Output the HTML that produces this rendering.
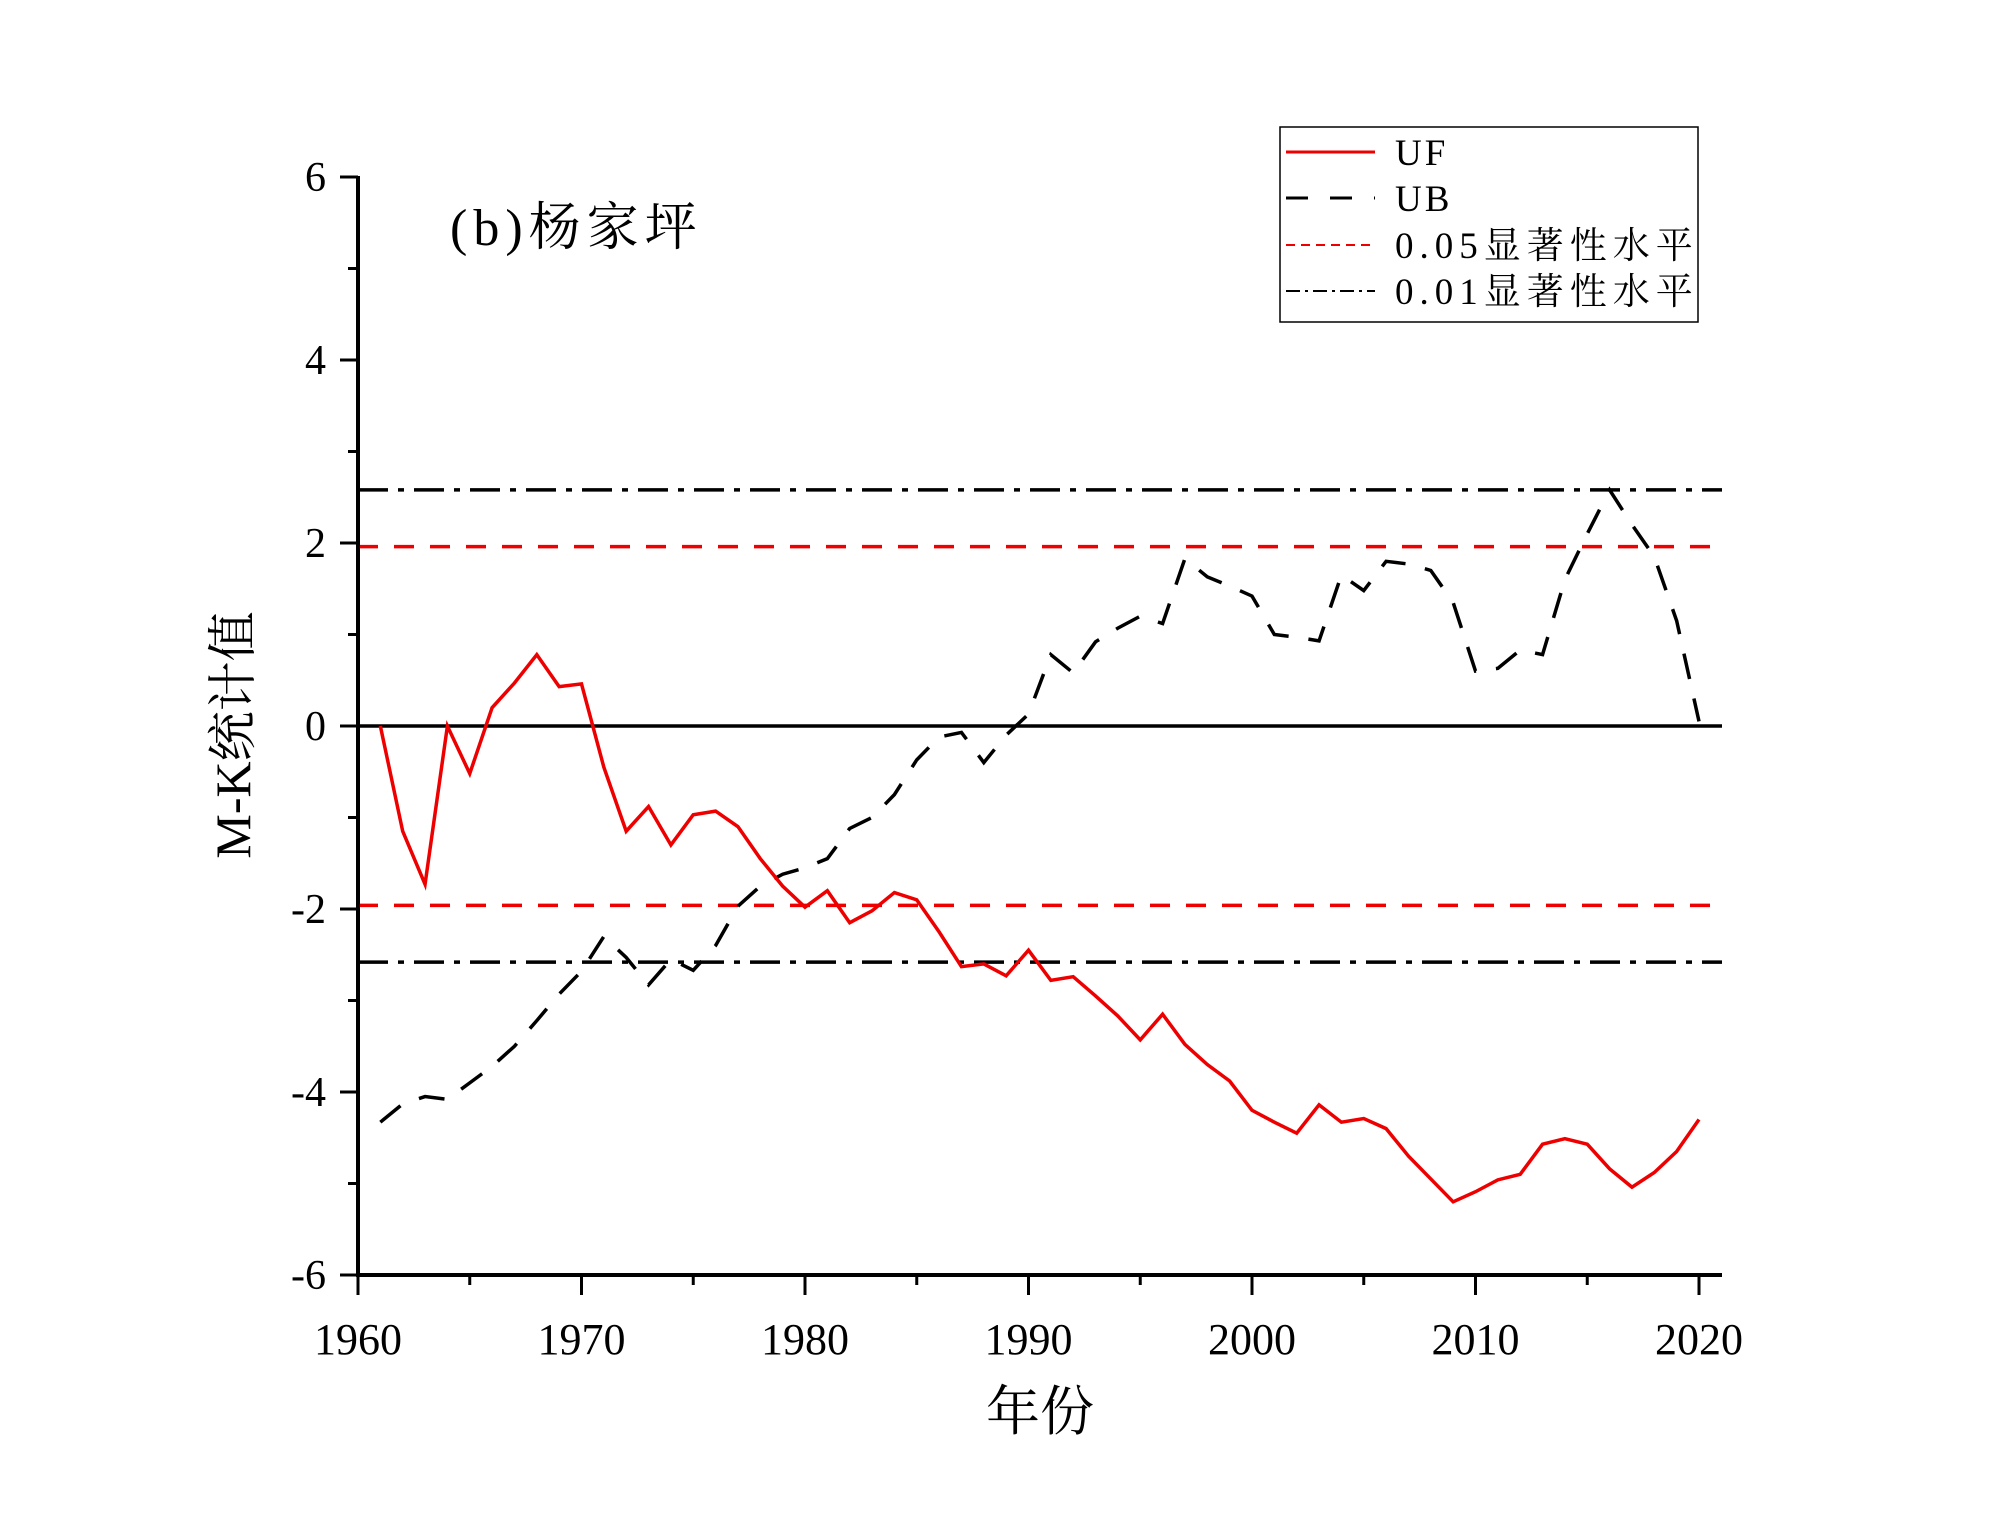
<!DOCTYPE html>
<html><head><meta charset="utf-8"><style>
html,body{margin:0;padding:0;background:#fff;}
svg{display:block;font-family:"Liberation Serif","Noto Serif CJK SC",serif;}
</style></head><body>
<svg id="chart" width="2000" height="1530" viewBox="0 0 2000 1530" xmlns="http://www.w3.org/2000/svg">
<rect width="2000" height="1530" fill="#fff"/>
<g id="plot"></g>
<text x="450" y="245" font-size="52" letter-spacing="6">(b)杨家坪</text>
<text x="1040" y="1430" font-size="54" text-anchor="middle">年份</text>
<text transform="translate(250,735) rotate(-90)" font-size="50" text-anchor="middle">M-K统计值</text>
<g>
<rect x="1280" y="127" width="418" height="195" fill="#fff" stroke="#000" stroke-width="1.5"/>
<line x1="1286" y1="152" x2="1375" y2="152" stroke="#e00" stroke-width="3"/>
<text x="1395" y="165" font-size="37" letter-spacing="3">UF</text>
<line x1="1286" y1="198" x2="1375" y2="198" stroke="#000" stroke-width="3" stroke-dasharray="22,22"/>
<text x="1395" y="211" font-size="37" letter-spacing="3">UB</text>
<line x1="1286" y1="245" x2="1375" y2="245" stroke="#e00" stroke-width="2" stroke-dasharray="9,6"/>
<text x="1395" y="258" font-size="37" letter-spacing="6">0.05显著性水平</text>
<line x1="1286" y1="291" x2="1375" y2="291" stroke="#000" stroke-width="2" stroke-dasharray="14,5,3,5"/>
<text x="1395" y="304" font-size="37" letter-spacing="6">0.01显著性水平</text>
</g>
</svg>
<script>
const years = [];
for (let y = 1961; y <= 2020; y++) years.push(y);
const ufValues = [0,-1.15,-1.73,0,-0.52,0.2,0.47,0.78,0.43,0.46,-0.45,-1.15,-0.88,-1.3,-0.97,-0.93,-1.1,-1.45,-1.75,-1.98,-1.8,-2.15,-2.02,-1.82,-1.9,-2.25,-2.63,-2.6,-2.73,-2.45,-2.78,-2.74,-2.95,-3.17,-3.43,-3.15,-3.48,-3.7,-3.88,-4.2,-4.33,-4.45,-4.14,-4.33,-4.29,-4.4,-4.7,-4.95,-5.2,-5.09,-4.96,-4.9,-4.57,-4.51,-4.57,-4.84,-5.04,-4.88,-4.65,-4.3];
const ubValues = [-4.33,-4.13,-4.05,-4.08,-3.9,-3.72,-3.5,-3.22,-2.93,-2.68,-2.3,-2.53,-2.83,-2.55,-2.67,-2.4,-1.97,-1.75,-1.62,-1.55,-1.45,-1.12,-1.0,-0.75,-0.37,-0.12,-0.07,-0.4,-0.1,0.13,0.78,0.58,0.92,1.07,1.2,1.12,1.83,1.63,1.53,1.42,1.0,0.97,0.93,1.65,1.48,1.8,1.77,1.7,1.35,0.6,0.63,0.83,0.78,1.6,2.1,2.58,2.2,1.85,1.15,0.05];
const xTicks = [1960,1970,1980,1990,2000,2010,2020];
const yTicks = [-6,-4,-2,0,2,4,6];
const sig05 = 1.96, sig01 = 2.58;

const NS = "http://www.w3.org/2000/svg";
const X0 = 358, X1 = 1722, Y0 = 1275;
const xs = v => 358 + (v - 1960) * 22.35;
const ys = v => 726 - v * 91.5;
const g = document.getElementById('plot');
function mk(tag, attrs) {
  const e = document.createElementNS(NS, tag);
  for (const k in attrs) e.setAttribute(k, attrs[k]);
  g.appendChild(e);
  return e;
}
[[sig05,'#e00','20,16',3.5,'sig005-upper'],[-sig05,'#e00','20,16',3.5,'sig005-lower'],[sig01,'#000','30,10,6,10',3.5,'sig001-upper'],[-sig01,'#000','30,10,6,10',3.5,'sig001-lower']].forEach(d => {
  const l = mk('line', {x1: X0, x2: X1, y1: ys(d[0]), y2: ys(d[0]), stroke: d[1], 'stroke-width': d[3], 'stroke-dasharray': d[2]});
  
  
});
const z = mk('line', {x1: X0, x2: X1, y1: ys(0), y2: ys(0), stroke: '#000', 'stroke-width': 3.5});


const ub = mk('polyline', {points: years.map((y,i) => xs(y)+','+ys(ubValues[i])).join(' '), fill: 'none', stroke: '#000', 'stroke-width': 3.5, 'stroke-dasharray': '26,20'});


const uf = mk('polyline', {points: years.map((y,i) => xs(y)+','+ys(ufValues[i])).join(' '), fill: 'none', stroke: '#e00', 'stroke-width': 3.5});


const ya = mk('line', {x1: X0, x2: X0, y1: ys(6) - 1, y2: Y0 + 2, stroke: '#000', 'stroke-width': 4});


const xa = mk('line', {x1: X0 - 2, x2: X1, y1: Y0, y2: Y0, stroke: '#000', 'stroke-width': 4});


for (let v = -6; v <= 6; v++) {
  const major = v % 2 === 0;
  mk('line', {x1: X0 - (major ? 18 : 10), x2: X0, y1: ys(v), y2: ys(v), stroke: '#000', 'stroke-width': 3});
}
yTicks.forEach(v => {
  const t = mk('text', {x: 326, y: ys(v) + 14, 'font-size': 42, 'text-anchor': 'end'});
  t.textContent = String(v);
  
  
});
for (let v = 1960; v <= 2020; v += 5) {
  const major = v % 10 === 0;
  mk('line', {x1: xs(v), x2: xs(v), y1: Y0, y2: Y0 + (major ? 20 : 10), stroke: '#000', 'stroke-width': 3});
}
xTicks.forEach(v => {
  const t = mk('text', {x: xs(v), y: 1354, 'font-size': 44, 'text-anchor': 'middle'});
  t.textContent = String(v);
  
  
});
</script>
</body></html>
